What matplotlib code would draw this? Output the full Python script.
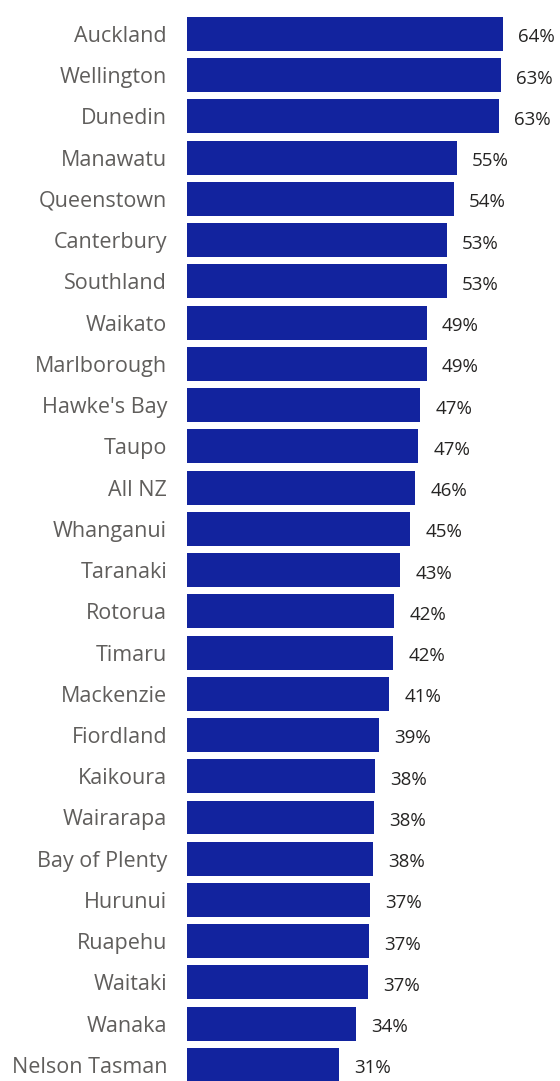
import matplotlib.pyplot as plt

# Regions and share (%)
regions = ["Auckland", "Wellington", "Dunedin", "Manawatu", "Queenstown",
           "Canterbury", "Southland", "Waikato", "Marlborough", "Hawke's Bay",
           "Taupo", "All NZ", "Whanganui", "Taranaki", "Rotorua", "Timaru",
           "Mackenzie", "Fiordland", "Kaikoura", "Wairarapa", "Bay of Plenty",
           "Hurunui", "Ruapehu", "Waitaki", "Wanaka", "Nelson Tasman"]
values = [63.9, 63.45, 63.1, 54.6, 54.0, 52.6, 52.6, 48.55, 48.55, 47.2,
          46.8, 46.2, 45.2, 43.1, 41.9, 41.7, 40.9, 38.9, 38.1, 37.9,
          37.7, 37.1, 36.9, 36.6, 34.2, 30.8]

bar_color = "#12239e"

plt.rcParams['font.family'] = ['Open Sans', 'DejaVu Sans']

fig = plt.figure(figsize=(5.6, 10.81), dpi=100)
ax = fig.add_axes([186.5 / 560, 0, 1 - 186.5 / 560, 1])

pos = list(range(len(regions)))
ax.barh(pos, values, height=0.824, color=bar_color)

for p, v in zip(pos, values):
    ax.annotate(f"{v:.0f}%", (v, p), xytext=(11, -2.5), textcoords="offset points",
                ha="left", va="center", fontsize=13.5, color="#252423")

ax.set_yticks(pos)
ax.set_yticklabels(regions, fontsize=15.5, color="#605e5c")
ax.tick_params(axis="y", length=0, pad=14)
ax.set_xticks([])
ax.set_xlim(0, 75.45)
ax.set_ylim(25.39, -0.824)
for s in ax.spines.values():
    s.set_visible(False)

fig.savefig("out.png", dpi=100)
